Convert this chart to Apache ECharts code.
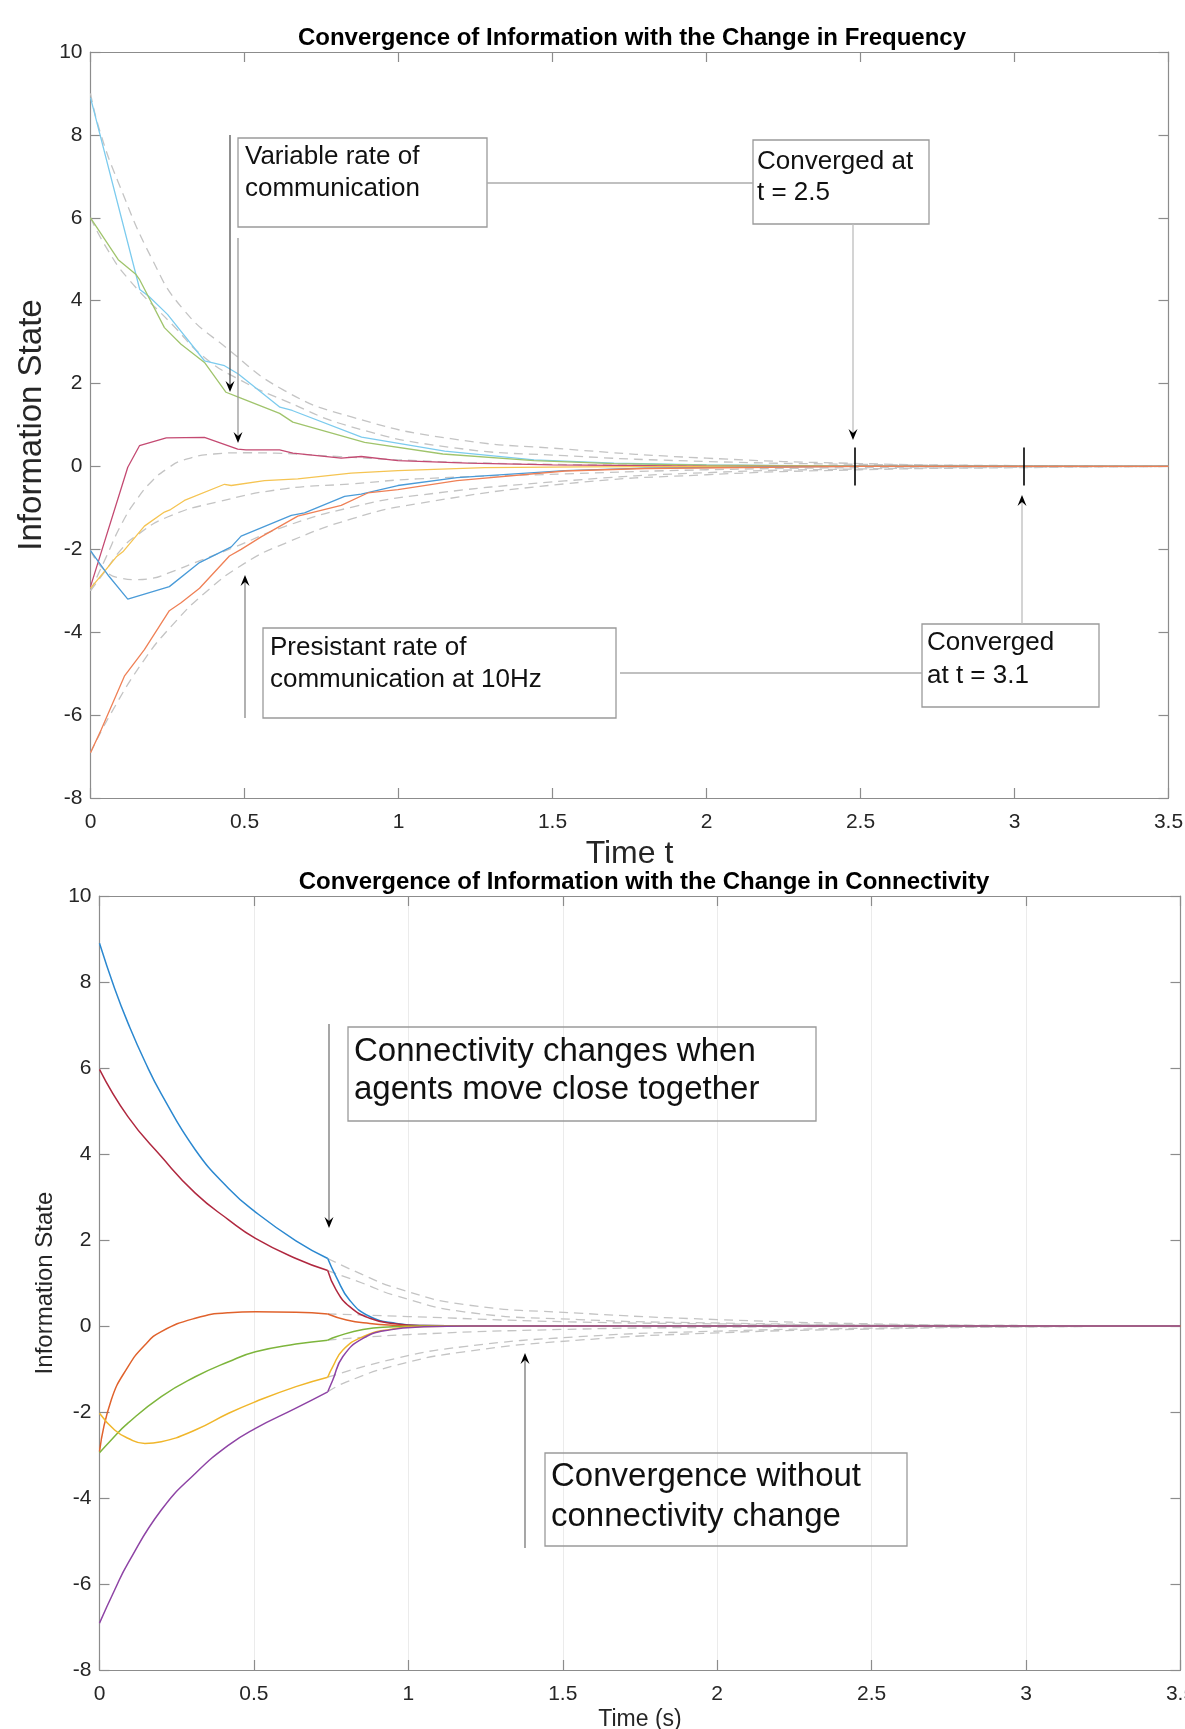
<!DOCTYPE html>
<html>
<head>
<meta charset="utf-8">
<title>Convergence of Information</title>
<script src="https://cdn.jsdelivr.net/npm/echarts@6/dist/echarts.min.js"></script>
<style>
  html, body { margin: 0; padding: 0; background: #fff; }
  #chart { width: 1185px; height: 1729px; }
</style>
</head>
<body>
<div id="chart"></div>
<script>
// ---- axis setup shared by both panels
const timeMin = 0, timeMax = 3.5, timeStep = 0.5;
const stateMin = -8, stateMax = 10, stateStep = 2;

// ---- panel 1: change in frequency, [time, state] samples per agent
const freqAgent1 = [[0,8.9],[0.16,4.27],[0.19,4.1],[0.25,3.67],[0.37,2.55],[0.435,2.43],[0.48,2.23],[0.615,1.43],[0.655,1.35],[0.88,0.71],[1.15,0.37],[1.44,0.16],[1.7,0.08],[2.0,0.04],[2.5,0.01],[3.5,0]];
const freqAgent2 = [[0,6.0],[0.09,4.99],[0.148,4.63],[0.16,4.5],[0.24,3.35],[0.294,2.95],[0.37,2.51],[0.44,1.79],[0.478,1.68],[0.614,1.28],[0.657,1.07],[0.89,0.58],[1.144,0.3],[1.44,0.14],[1.7,0.07],[2.0,0.03],[2.5,0.01],[3.5,0]];
const freqAgent3 = [[0,-2.9],[0.121,-0.02],[0.159,0.5],[0.246,0.69],[0.37,0.7],[0.478,0.42],[0.505,0.4],[0.614,0.4],[0.657,0.32],[0.814,0.2],[0.879,0.24],[0.998,0.14],[1.225,0.08],[1.5,0.04],[2.0,0.01],[2.5,0],[3.5,0]];
const freqAgent4 = [[0,-2.94],[0.084,-2.18],[0.105,-2.06],[0.175,-1.44],[0.24,-1.1],[0.26,-1.04],[0.305,-0.82],[0.435,-0.43],[0.457,-0.46],[0.565,-0.34],[0.673,-0.3],[0.846,-0.16],[0.998,-0.1],[1.28,-0.03],[1.6,-0.01],[2.0,0],[3.5,0]];
const freqAgent5 = [[0,-2.03],[0.06,-2.65],[0.121,-3.2],[0.256,-2.9],[0.354,-2.32],[0.457,-1.94],[0.489,-1.68],[0.652,-1.18],[0.695,-1.12],[0.825,-0.72],[0.879,-0.67],[0.998,-0.46],[1.19,-0.27],[1.54,-0.1],[1.8,-0.04],[2.2,-0.01],[2.5,0],[3.5,0]];
const freqAgent6 = [[0,-6.91],[0.035,-6.35],[0.11,-5.06],[0.175,-4.42],[0.256,-3.48],[0.294,-3.29],[0.354,-2.94],[0.451,-2.16],[0.489,-2.0],[0.554,-1.7],[0.673,-1.2],[0.814,-0.94],[0.9,-0.64],[0.998,-0.56],[1.19,-0.34],[1.54,-0.11],[1.8,-0.05],[2.2,-0.02],[2.5,0],[3.5,0]];
// reference runs (grey dashed)
const freqRef1 = [[0,9],[0.03,8.1],[0.09,6.86],[0.2,5.0],[0.3,3.8],[0.44,2.87],[0.63,1.83],[0.85,1.19],[1.17,0.67],[1.54,0.42],[2.0,0.2],[2.5,0.07],[3.0,0.02],[3.5,0]];
const freqRef2 = [[0,6],[0.05,5.3],[0.12,4.55],[0.27,3.39],[0.37,2.63],[0.49,2.07],[0.63,1.59],[0.85,0.95],[1.17,0.46],[1.54,0.26],[2.0,0.12],[2.5,0.05],[3.0,0.015],[3.5,0]];
const freqRef3 = [[0,-3],[0.05,-2.2],[0.1,-1.4],[0.15,-0.8],[0.2,-0.35],[0.25,-0.05],[0.3,0.15],[0.4,0.3],[0.5,0.33],[0.6,0.32],[0.8,0.24],[1.0,0.16],[1.2,0.1],[1.5,0.05],[2.0,0.02],[2.5,0.01],[3.5,0]];
const freqRef4 = [[0,-3],[0.05,-2.5],[0.1,-2.0],[0.143,-1.7],[0.25,-1.22],[0.41,-0.86],[0.63,-0.54],[0.85,-0.42],[1.06,-0.3],[1.54,-0.18],[2.0,-0.08],[2.5,-0.03],[3.0,-0.01],[3.5,0]];
const freqRef5 = [[0,-2.03],[0.045,-2.5],[0.1,-2.7],[0.143,-2.73],[0.2,-2.7],[0.25,-2.58],[0.36,-2.26],[0.47,-1.94],[0.63,-1.45],[0.85,-0.98],[1.06,-0.7],[1.54,-0.35],[2.0,-0.15],[2.5,-0.06],[3.0,-0.02],[3.5,0]];
const freqRef6 = [[0,-6.91],[0.067,-5.95],[0.175,-4.66],[0.262,-3.86],[0.37,-3.06],[0.5,-2.34],[0.63,-1.86],[0.85,-1.26],[1.06,-0.9],[1.54,-0.42],[2.0,-0.2],[2.5,-0.08],[3.0,-0.03],[3.5,0]];
// convergence markers (time, half height in state units)
const convergedTimes = [2.48, 3.03];
const markerHalf = 0.46;

// ---- panel 2: change in connectivity
const switchTime = 0.739;
const connAgent1 = [[0,8.9],[0.049,7.85],[0.092,7.05],[0.147,6.15],[0.2,5.4],[0.31,4.1],[0.418,3.2],[0.505,2.65],[0.636,1.98],[0.739,1.57],[0.766,1.15],[0.81,0.6],[0.875,0.22],[0.962,0.06],[1.05,0.01],[1.2,0],[3.5,0]];
const connAgent2 = [[0,5.97],[0.092,4.87],[0.2,3.94],[0.31,3.09],[0.418,2.47],[0.505,2.04],[0.636,1.57],[0.739,1.29],[0.766,0.84],[0.81,0.45],[0.875,0.18],[0.95,0.06],[1.05,0.01],[1.2,0],[3.5,0]];
const connAgent3 = [[0,-2.92],[0.038,-1.72],[0.092,-0.95],[0.147,-0.44],[0.2,-0.13],[0.31,0.18],[0.418,0.31],[0.505,0.33],[0.636,0.32],[0.739,0.28],[0.8,0.14],[0.875,0.06],[0.95,0.02],[1.05,0],[3.5,0]];
const connAgent4 = [[0,-2.95],[0.038,-2.65],[0.092,-2.26],[0.2,-1.64],[0.31,-1.18],[0.418,-0.83],[0.505,-0.6],[0.636,-0.42],[0.739,-0.33],[0.766,-0.25],[0.853,-0.08],[0.95,-0.02],[1.05,0],[3.5,0]];
const connAgent5 = [[0,-2.03],[0.049,-2.42],[0.092,-2.61],[0.147,-2.73],[0.2,-2.69],[0.31,-2.42],[0.418,-2.03],[0.505,-1.76],[0.636,-1.41],[0.739,-1.19],[0.755,-0.95],[0.788,-0.56],[0.853,-0.25],[0.94,-0.08],[1.05,-0.01],[1.2,0],[3.5,0]];
const connAgent6 = [[0,-6.91],[0.049,-6.14],[0.092,-5.52],[0.2,-4.28],[0.31,-3.43],[0.418,-2.77],[0.505,-2.38],[0.636,-1.91],[0.739,-1.53],[0.755,-1.26],[0.788,-0.71],[0.853,-0.29],[0.94,-0.09],[1.05,-0.02],[1.2,0],[3.5,0]];
// what would have happened without the connectivity change
const connRef1 = [[0.739,1.57],[0.85,1.2],[0.962,0.88],[1.18,0.5],[1.55,0.3],[2.0,0.15],[2.5,0.05],[3.0,0.01],[3.5,0]];
const connRef2 = [[0.739,1.29],[0.85,1.0],[0.962,0.7],[1.18,0.33],[1.55,0.15],[2.0,0.07],[2.5,0.03],[3.0,0.01],[3.5,0]];
const connRef3 = [[0.739,0.28],[1.0,0.22],[1.5,0.1],[2.0,0.05],[2.5,0.02],[3.5,0]];
const connRef4 = [[0.739,-0.33],[1.0,-0.2],[1.5,-0.08],[2.0,-0.03],[2.5,-0.01],[3.5,0]];
const connRef5 = [[0.739,-1.19],[0.962,-0.75],[1.18,-0.48],[1.55,-0.25],[2.0,-0.12],[2.5,-0.05],[3.0,-0.02],[3.5,0]];
const connRef6 = [[0.739,-1.53],[0.8,-1.3],[0.962,-0.91],[1.18,-0.6],[1.55,-0.33],[2.0,-0.16],[2.5,-0.07],[3.0,-0.02],[3.5,0]];

const FONT = '"Liberation Sans", Arial, Helvetica, sans-serif';
const freqColors = ['#7ccbee', '#a0c46c', '#c44a72', '#f5c452', '#4a9bd8', '#ef8056'];
const connColors = ['#2b88d0', '#b0283f', '#e0622c', '#7db53c', '#f0b62b', '#8e44a5'];
const frameColor = '#8c8c8c';
const labelColor = '#262626';

const chart = echarts.init(document.getElementById('chart'), null, { renderer: 'canvas' });

function axisPair(kind, gridIndex, opts) {
  // main axis with labels + mirrored axis for the inward ticks on the far side
  const base = kind === 'x'
    ? { min: timeMin, max: timeMax, interval: timeStep }
    : { min: stateMin, max: stateMax, interval: stateStep };
  const common = Object.assign({
    type: 'value', gridIndex: gridIndex,
    axisLine: { show: true, onZero: false, lineStyle: { color: frameColor, width: 1.2 } },
    axisTick: { show: true, inside: true, length: 10, lineStyle: { color: frameColor, width: 1.2 } },
    splitLine: { show: false }
  }, base);
  const main = Object.assign({}, common, {
    position: kind === 'x' ? 'bottom' : 'left',
    axisLabel: { color: labelColor, fontSize: 21, fontFamily: FONT, margin: kind === 'x' ? 14 : 8 }
  }, opts || {});
  const mirror = Object.assign({}, common, {
    position: kind === 'x' ? 'top' : 'right',
    axisLabel: { show: false }
  });
  return [main, mirror];
}

function solid(data, color, xi, yi, width, smooth) {
  return {
    type: 'line', data: data, xAxisIndex: xi, yAxisIndex: yi,
    showSymbol: false, smooth: smooth ? 0.5 : false,
    lineStyle: { color: color, width: width }, z: 3, silent: true
  };
}
function dashed(data, xi, yi) {
  return {
    type: 'line', data: data, xAxisIndex: xi, yAxisIndex: yi,
    showSymbol: false, smooth: 0.5,
    lineStyle: { color: '#c4c4c4', width: 1.3, type: [9, 6] }, z: 2, silent: true
  };
}

const freqAgents = [freqAgent1, freqAgent2, freqAgent3, freqAgent4, freqAgent5, freqAgent6];
const freqRefs = [freqRef1, freqRef2, freqRef3, freqRef4, freqRef5, freqRef6];
const connAgents = [connAgent1, connAgent2, connAgent3, connAgent4, connAgent5, connAgent6];
const connRefs = [connRef1, connRef2, connRef3, connRef4, connRef5, connRef6];

const series = [];
freqRefs.forEach(d => series.push(dashed(d, 0, 0)));
freqAgents.forEach((d, i) => series.push(solid(d, freqColors[i], 0, 0, 1.3, false)));
series.push({
  type: 'line', data: [], xAxisIndex: 0, yAxisIndex: 0, silent: true,
  markLine: {
    symbol: 'none', silent: true, label: { show: false },
    lineStyle: { color: '#000', width: 1.6, type: 'solid' },
    data: convergedTimes.map(t => [{ coord: [t, markerHalf] }, { coord: [t, -markerHalf] }])
  }
});
connRefs.forEach(d => series.push(dashed(d, 2, 2)));
connAgents.forEach((d, i) => {
  // smooth each piece separately so the kink at the switch stays sharp
  series.push(solid(d.filter(p => p[0] <= switchTime), connColors[i], 2, 2, 1.5, true));
  series.push(solid(d.filter(p => p[0] >= switchTime), connColors[i], 2, 2, 1.5, true));
});

// ---- annotations (figure-space, like the original text boxes)
function box(x, y, w, h) {
  return { type: 'rect', shape: { x: x, y: y, width: w, height: h }, style: { fill: 'none', stroke: '#9a9a9a', lineWidth: 1.3 }, z: 10 };
}
function label(x, y, text, size, lh) {
  return { type: 'text', x: x, y: y, style: { text: text, font: size + 'px ' + FONT, fill: '#111', lineHeight: lh, verticalAlign: 'top', align: 'left' }, z: 11 };
}
function seg(x1, y1, x2, y2, color) {
  return { type: 'line', shape: { x1: x1, y1: y1, x2: x2, y2: y2 }, style: { stroke: color, lineWidth: 1.3 }, z: 10 };
}
function arrow(x1, y1, x2, y2, color) {
  // line from (x1,y1) to arrow tip (x2,y2); vertical arrows only
  const dir = y2 > y1 ? 1 : -1;
  const L = 11, W = 4.5, N = 7;
  return [
    seg(x1, y1, x2, y2 - dir * N, color),
    { type: 'polygon', shape: { points: [[x2, y2], [x2 - W, y2 - dir * L], [x2, y2 - dir * N], [x2 + W, y2 - dir * L]] }, style: { fill: '#000' }, z: 11 }
  ];
}

const graphics = [].concat(
  box(238, 138, 249, 89), label(245, 141, 'Variable rate of\ncommunication', 26, 32),
  box(753, 140, 176, 84), label(757, 146, 'Converged at\nt = 2.5', 26, 31),
  box(263, 628, 353, 90), label(270, 632, 'Presistant rate of\ncommunication at 10Hz', 26, 32),
  box(922, 624, 177, 83), label(927, 626, 'Converged\nat t = 3.1', 26, 33),
  seg(487, 183, 753, 183, '#ababab'),
  seg(620, 673, 922, 673, '#ababab'),
  arrow(230, 135, 230, 392, '#555'),
  arrow(238, 238, 238, 443, '#999'),
  arrow(853, 224, 853, 440, '#bdbdbd'),
  arrow(1022, 624, 1022, 495, '#bdbdbd'),
  arrow(245, 718, 245, 575, '#888'),
  box(348, 1027, 468, 94), label(354, 1033, 'Connectivity changes when\nagents move close together', 33, 38),
  box(545, 1453, 362, 93), label(551, 1457, 'Convergence without\nconnectivity change', 33, 40),
  arrow(329, 1024, 329, 1228, '#777'),
  arrow(525, 1548, 525, 1353, '#777')
);

const topX = axisPair('x', 0, { name: 'Time t', nameLocation: 'middle', nameGap: 40, nameTextStyle: { fontSize: 32, color: labelColor, fontFamily: FONT } });
const topY = axisPair('y', 0, { name: 'Information State', nameLocation: 'middle', nameGap: 31, nameTextStyle: { fontSize: 33, color: labelColor, fontFamily: FONT } });
const botX = axisPair('x', 1, {
  name: 'Time (s)', nameLocation: 'middle', nameGap: 38, nameTextStyle: { fontSize: 23, color: labelColor, fontFamily: FONT },
  splitLine: { show: true, lineStyle: { color: '#ebebeb', width: 1 } }
});
const botY = axisPair('y', 1, { name: 'Information State', nameLocation: 'middle', nameGap: 32, nameTextStyle: { fontSize: 24, color: labelColor, fontFamily: FONT } });

chart.setOption({
  animation: false,
  backgroundColor: '#ffffff',
  title: [
    { text: 'Convergence of Information with the Change in Frequency', left: 627, top: 21, textAlign: 'center',
      textStyle: { fontSize: 24, fontWeight: 'bold', color: '#000', fontFamily: FONT } },
    { text: 'Convergence of Information with the Change in Connectivity', left: 639, top: 865, textAlign: 'center',
      textStyle: { fontSize: 24, fontWeight: 'bold', color: '#000', fontFamily: FONT } }
  ],
  grid: [
    { left: 90.5, top: 52, width: 1078, height: 746, outerBoundsMode: 'none' },
    { left: 99.5, top: 896, width: 1081, height: 774, outerBoundsMode: 'none' }
  ],
  xAxis: topX.concat(botX),
  yAxis: topY.concat(botY),
  series: series,
  graphic: graphics
});
</script>
</body>
</html>
